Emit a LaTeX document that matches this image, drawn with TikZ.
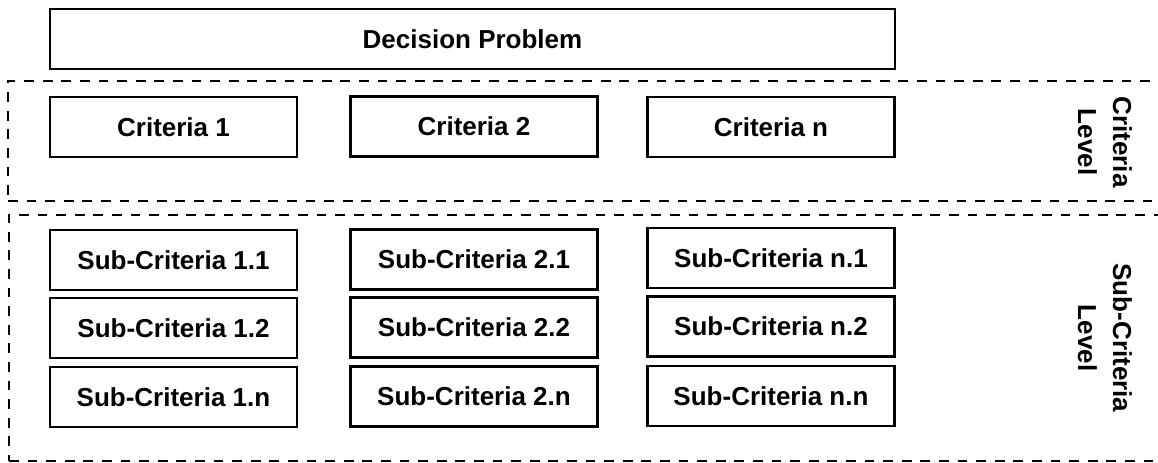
\documentclass[tikz,border=0pt]{standalone}
\usepackage{fontspec}
\setmainfont{Liberation Sans}
\begin{document}
\begin{tikzpicture}[x=0.5pt,y=-0.5pt,
  box/.style={draw=black, line width=1.1pt, fill=white, minimum width=123.5pt, minimum height=30pt, inner sep=0pt, font=\fontsize{13pt}{17.5pt}\selectfont\bfseries},
  levelbox/.style={draw=black, line width=1pt, dash pattern=on 4.9pt off 4.4pt, inner sep=0pt},
  levellabel/.style={rotate=-90, align=center, font=\fontsize{13pt}{17.5pt}\selectfont\bfseries}]
\useasboundingbox (0,0) rectangle (1158,462);
\clip (0,0) rectangle (1158,462);
% level frames
\node[levelbox, minimum width=581pt, minimum height=60pt] (critlevel) at (589,141) {};
\node[levelbox, minimum width=580.5pt, minimum height=123pt] (sublevel) at (589.5,337.5) {};
% top
\node[box, minimum width=422.5pt] (dp) at (472.5,39) {Decision Problem};
% criteria
\node[box] (c1) at (173.5,127) {Criteria 1};
\node[box] (c2) at (474,126.5) {Criteria 2};
\node[box] (cn) at (771,127) {Criteria n};
% sub-criteria
\node[box] (s11) at (173.5,260) {Sub-Criteria 1.1};
\node[box] (s12) at (173.5,328) {Sub-Criteria 1.2};
\node[box] (s1n) at (173.5,397) {Sub-Criteria 1.n};
\node[box] (s21) at (474,259.5) {Sub-Criteria 2.1};
\node[box] (s22) at (474,327.5) {Sub-Criteria 2.2};
\node[box] (s2n) at (474,396.5) {Sub-Criteria 2.n};
\node[box] (sn1) at (771,258) {Sub-Criteria n.1};
\node[box] (sn2) at (771,326.5) {Sub-Criteria n.2};
\node[box] (snn) at (771,396) {Sub-Criteria n.n};
% level labels
\node[levellabel] (critlab) at (1105,142) {Criteria\\Level};
\node[levellabel] (sublab) at (1105,338) {Sub-Criteria\\Level};
\end{tikzpicture}
\end{document}
